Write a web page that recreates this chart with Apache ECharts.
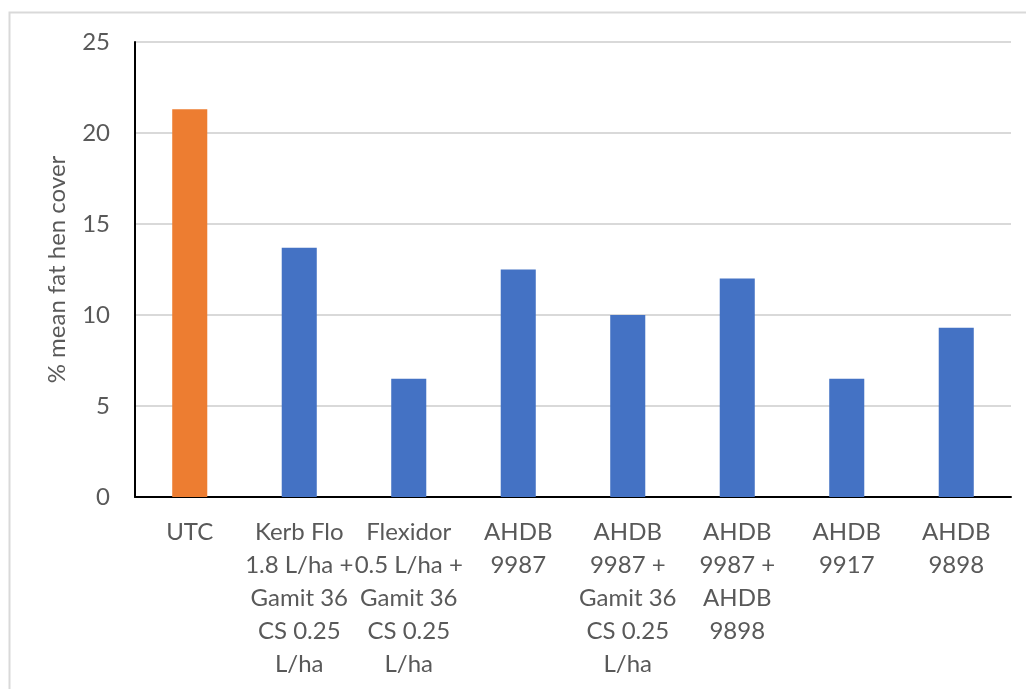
<!DOCTYPE html>
<html>
<head>
<meta charset="utf-8">
<script src="https://cdn.jsdelivr.net/npm/echarts@6/dist/echarts.min.js"></script>
<style>
    html, body {margin: 0; padding: 0; background: #fff;}
    #chart {width: 1026px; height: 689px;}
</style>
</head>
<body>
<div id="chart"></div>
<script>
var categories = [
    'UTC',
    'Kerb Flo\n1.8 L/ha +\nGamit 36\nCS 0.25\nL/ha',
    'Flexidor\n0.5 L/ha +\nGamit 36\nCS 0.25\nL/ha',
    'AHDB\n9987',
    'AHDB\n9987 +\nGamit 36\nCS 0.25\nL/ha',
    'AHDB\n9987 +\nAHDB\n9898',
    'AHDB\n9917',
    'AHDB\n9898'
];
var coverValues = [21.3, 13.7, 6.5, 12.5, 10.0, 12.0, 6.5, 9.3];
var barColors = ['#ED7D31', '#4472C4', '#4472C4', '#4472C4', '#4472C4', '#4472C4', '#4472C4', '#4472C4'];
var yTicks = [0, 5, 10, 15, 20, 25];

var textColor = '#595959';
var fontName = 'Lato, "Open Sans", sans-serif';

var chart = echarts.init(document.getElementById('chart'));

var option = {
    backgroundColor: '#fff',
    animation: false,
    graphic: [
        {
            type: 'rect',
            shape: {x: 9.5, y: 12.5, width: 1100, height: 800},
            style: {fill: 'none', stroke: '#D9D9D9', lineWidth: 2},
            silent: true
        }
    ],
    grid: {left: 135, right: 15, top: 42, bottom: 192},
    xAxis: {
        type: 'category',
        data: categories,
        axisLine: {lineStyle: {color: '#000', width: 2}},
        axisTick: {show: false},
        axisLabel: {
            color: textColor,
            fontFamily: fontName,
            fontSize: 24,
            lineHeight: 33,
            margin: 19,
            interval: 0
        }
    },
    yAxis: {
        type: 'value',
        min: yTicks[0],
        max: yTicks[yTicks.length - 1],
        interval: 5,
        name: '% mean fat hen cover',
        nameLocation: 'middle',
        nameGap: 66,
        nameTextStyle: {color: textColor, fontFamily: fontName, fontSize: 24},
        axisLine: {show: true, lineStyle: {color: '#000', width: 2}},
        axisTick: {show: false},
        axisLabel: {color: textColor, fontFamily: fontName, fontSize: 24, margin: 25},
        splitLine: {lineStyle: {color: '#D9D9D9', width: 2}}
    },
    series: [
        {
            type: 'bar',
            barWidth: '32%',
            data: coverValues.map(function (v, i) {
                return {value: v, itemStyle: {color: barColors[i]}};
            })
        }
    ]
};
chart.setOption(option);
</script>
</body>
</html>
